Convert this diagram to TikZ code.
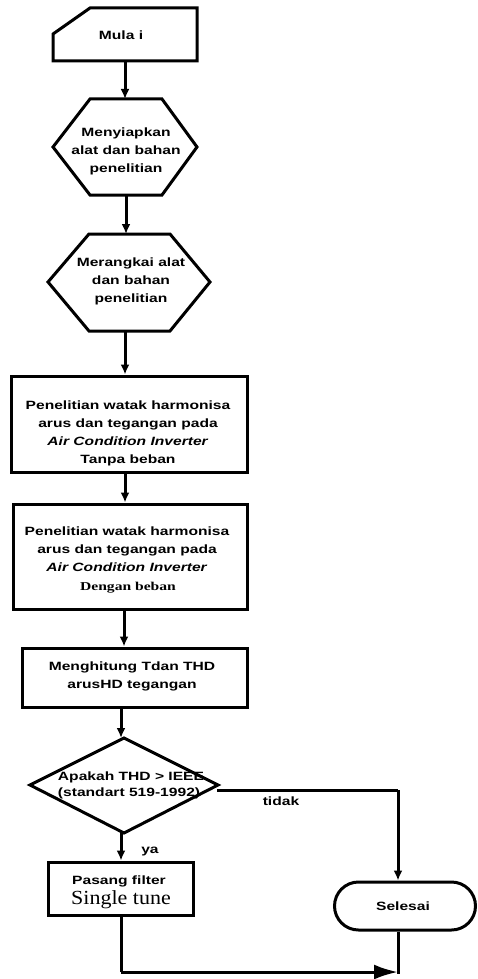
\documentclass[tikz,border=0pt]{standalone}
\usepackage{fontspec}
\setmainfont{Liberation Sans}[FakeStretch=1.3]
\newfontfamily\serifx{Liberation Serif}[FakeStretch=1.3]
\newfontfamily\serify{Liberation Serif}[FakeStretch=1.1]
\usetikzlibrary{arrows.meta}
\begin{document}
\begin{tikzpicture}[x=1pt,y=-1pt,
  shp/.style={draw, line width=3pt, line join=miter},
  box/.style={draw, line width=3pt, rectangle, inner sep=0pt},
  txt/.style={align=center, font=\fontsize{12}{18}\selectfont\bfseries, inner sep=0pt},
  lbl/.style={font=\fontsize{12}{14}\selectfont\bfseries, inner sep=0pt},
  conn/.style={line width=3pt},
  flow/.style={line width=3pt, -{Latex[length=10pt,width=9pt]}},
  bigflow/.style={line width=3pt, -{Latex[length=24pt,width=15pt]}},
  ]
\useasboundingbox (0,0) rectangle (478,979);

% Mulai (manual input)
\draw[shp] (53,34) -- (90,8) -- (197,8) -- (197,61) -- (53,61) -- cycle;
\node[txt] (mulai) at (121,35) {Mula i};
\coordinate (m-b) at (125,61);

% Hexagon 1
\draw[shp] (90,99) -- (162,99) -- (197,147) -- (162,195) -- (90,195) -- (53,147) -- cycle;
\node[txt] (h1) at (126,151) {Menyiapkan\\alat dan bahan\\penelitian};
\coordinate (h1-t) at (125,99);
\coordinate (h1-b) at (126,195);

% Hexagon 2
\draw[shp] (89,234) -- (170,234) -- (210,282) -- (170,331) -- (89,331) -- (48,282) -- cycle;
\node[txt] (h2) at (131,281) {Merangkai alat\\dan bahan\\penelitian};
\coordinate (h2-t) at (126,234);
\coordinate (h2-b) at (125,331);

% Box 1
\node[box, minimum width=236pt, minimum height=96pt] (b1) at (129,424) {};
\node[txt] (b1t) at (128,433) {Penelitian watak harmonisa\\arus dan tegangan pada\\\textit{Air Condition Inverter}\\Tanpa beban};

% Box 2
\node[box, minimum width=234pt, minimum height=105pt] (b2) at (130,556.5) {};
\node[txt] (b2t) at (127,549) {Penelitian watak harmonisa\\arus dan tegangan pada\\\textit{Air Condition Inverter}};
\node[txt] (b2u) at (128,588) {\serifx Dengan beban};
\coordinate (x124) at (124,0);

% Box 3
\node[box, minimum width=225pt, minimum height=59pt] (b3) at (134.5,677.5) {};
\node[txt] (b3t) at (132,676) {Menghitung Tdan THD\\arusHD tegangan};

% Diamond
\draw[shp] (124,738) -- (218,785) -- (124,833) -- (30,785) -- cycle;
\node[txt, align=left] (dt) at (131,785) {Apakah THD > IEEE\\[-2pt](standart 519-1992)};
\coordinate (d-t) at (121,738);
\coordinate (d-b) at (121,833);
\coordinate (d-r) at (217,790);
\coordinate (corner) at (398,790);

% Box 4
\node[box, minimum width=145pt, minimum height=53pt] (b4) at (120.5,888.5) {};
\node[txt] (b4t) at (119,881) {Pasang filter};
\node[inner sep=0pt, font=\serify\fontsize{20}{20}\selectfont] (b4u) at (121,900) {Single tune};

% Selesai
\node[draw, line width=3pt, rounded corners=24pt, minimum width=141pt, minimum height=48pt, inner sep=0pt] (s) at (405,906) {};
\node[txt] (st) at (403,906) {Selesai};

% Labels
\node[lbl] (tidak) at (281,801) {tidak};
\node[lbl] (ya) at (150,852) {ya};

% Connectors
\draw[flow] (m-b) -- (h1-t);
\draw[flow] (h1-b) -- (h2-t);
\draw[flow] (h2-b) -- (h2-b |- b1.north);
\draw[flow] (b1.south -| h2-b) -- (b2.north -| h2-b);
\draw[flow] (b2.south -| x124) -- (b3.north -| x124);
\draw[flow] (b3.south -| d-t) -- (d-t);
\draw[flow] (d-b) -- (d-b |- b4.north);
\draw[conn] (d-r) -- (corner);
\draw[flow] (corner) -- (corner |- s.north);
\coordinate (bl) at (121,972);
\coordinate (br) at (398,972);
\draw[conn] (b4.south -| bl) -- (bl);
\draw[bigflow] (bl) -- (br);
\draw[conn] (s.south -| br) -- ([yshift=-1.5pt]br);
\end{tikzpicture}
\end{document}
